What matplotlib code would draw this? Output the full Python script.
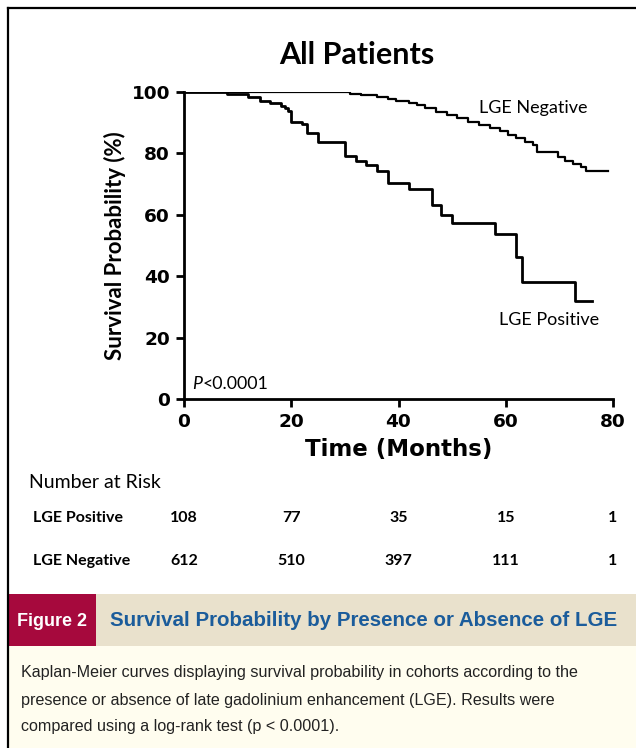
import matplotlib
matplotlib.use('Agg')
import matplotlib.pyplot as plt
import matplotlib.patches as mpatches
import matplotlib.transforms as mtransforms

# Kaplan-Meier step data (months, survival %)
pos_time = [0, 8, 12, 14.2, 16, 18, 18.8, 19.4, 20, 22, 23, 25, 30, 32, 34, 36,
            38, 42, 46.2, 48, 50, 58, 62, 63, 73, 76]
pos_surv = [100, 99.2, 98.3, 97.2, 96.3, 95.5, 94.7, 93.8, 90.3, 89.5, 86.5, 83.6,
            79.3, 77.5, 76.2, 74.3, 70.5, 68.3, 63.2, 59.9, 57.2, 53.6, 46.4,
            38.2, 31.9, 31.9]
neg_time = [0, 31, 33, 36, 38, 39.5, 42, 43.5, 45, 47, 49, 51, 53, 55, 57, 59,
            60.5, 62, 63.5, 65, 65.8, 69.7, 71, 72.6, 74, 75, 79]
neg_surv = [100, 99.5, 99.0, 98.3, 97.6, 97.0, 96.5, 95.8, 94.8, 93.4, 92.4, 91.4,
            90.3, 89.3, 88.2, 87.2, 86.0, 85.0, 83.8, 82.8, 80.5, 78.8, 77.5,
            76.5, 75.5, 74.2, 74.2]

risk_times = [0, 20, 40, 60, 80]
risk_pos = [108, 77, 35, 15, 1]
risk_neg = [612, 510, 397, 111, 1]

W, H = 636, 748


def fx(px):
    return px / W


def fy(py):
    return 1 - py / H


fig = plt.figure(figsize=(W / 100, H / 100), dpi=100)
fig.patch.set_facecolor('white')

# outer frame (only top and left edges are visible)
fig.add_artist(plt.Line2D([fx(8), fx(8)], [fy(8), 0], color='black', lw=1.6,
                          transform=fig.transFigure))
fig.add_artist(plt.Line2D([fx(8), 1], [fy(8), fy(8)], color='black', lw=1.6,
                          transform=fig.transFigure))

# caption band
fig.add_artist(mpatches.Rectangle((fx(9), fy(748)), 1, fy(646) - fy(748),
               transform=fig.transFigure, facecolor='#fffdef', edgecolor='none'))
fig.add_artist(mpatches.Rectangle((fx(9), fy(646)), 1, fy(594) - fy(646),
               transform=fig.transFigure, facecolor='#e9e1cc', edgecolor='none'))
fig.add_artist(mpatches.Rectangle((fx(8), fy(646)), fx(96) - fx(8), fy(594) - fy(646),
               transform=fig.transFigure, facecolor='#a6093d', edgecolor='none'))
narrow = ['Liberation Sans Narrow', 'Liberation Sans', 'DejaVu Sans']
fig.text(fx(52), fy(621), 'Figure 2', color='white', fontsize=13,
         fontweight='bold', family=narrow, ha='center', va='center')
fig.text(fx(110), fy(621), 'Survival Probability by Presence or Absence of LGE',
         color='#1b5c9b', fontsize=14.8, fontweight='bold', family=narrow,
         ha='left', va='center')
caption = ['Kaplan-Meier curves displaying survival probability in cohorts according to the',
           'presence or absence of late gadolinium enhancement (LGE). Results were',
           'compared using a log-rank test (p < 0.0001).']
for i, line in enumerate(caption):
    fig.text(fx(21), fy(673 + 27 * i), line, color='#222222', fontsize=11.6,
             family=narrow, ha='left', va='center')

# survival plot
ax = fig.add_axes([fx(184), fy(399), fx(613) - fx(184), fy(92) - fy(399)])
ax.step(neg_time, neg_surv, where='post', color='black', lw=1.6)
ax.step(pos_time, pos_surv, where='post', color='black', lw=2.0)
ax.set_xlim(0, 80)
ax.set_ylim(0, 100)
ax.set_xticks(risk_times)
ax.set_yticks([0, 20, 40, 60, 80, 100])
for s in ['top', 'right']:
    ax.spines[s].set_visible(False)
for s in ['left', 'bottom']:
    ax.spines[s].set_linewidth(2)
ax.tick_params(direction='out', length=6, width=2, labelsize=13.3, pad=4)
for lab in ax.get_xticklabels() + ax.get_yticklabels():
    lab.set_fontweight('bold')
ax.set_xlabel('Time (Months)', fontsize=16.5, fontweight='bold', labelpad=5)
ax.set_ylabel('Survival Probability (%)', fontsize=16, family='Lato',
              fontweight='bold', labelpad=4)
fig.text(fx(357), fy(55), 'All Patients', fontsize=22, family='Lato',
         fontweight='bold', ha='center', va='center')

ax.text(65.1, 94.8, 'LGE Negative', fontsize=13, family='Lato', ha='center', va='center')
ax.text(68.1, 25.7, 'LGE Positive', fontsize=13, family='Lato', ha='center', va='center')
pt = ax.text(1.6, 2.3, 'P', fontsize=12.8, family='Lato', style='italic', ha='left', va='bottom')
ax.annotate('<0.0001', xy=(1, 0), xycoords=pt, fontsize=12.8, family='Lato',
            ha='left', va='bottom')

# number at risk table
blend = mtransforms.blended_transform_factory(ax.transData, fig.transFigure)
fig.text(fx(29), fy(483), 'Number at Risk', fontsize=14, family='Lato', ha='left', va='center')
fig.text(fx(33), fy(518), 'LGE Positive', fontsize=11.5, family='Lato', fontweight='bold',
         ha='left', va='center')
fig.text(fx(33), fy(561), 'LGE Negative', fontsize=11.5, family='Lato', fontweight='bold',
         ha='left', va='center')
for t, p, n in zip(risk_times, risk_pos, risk_neg):
    fig.text(t, fy(518), str(p), transform=blend, fontsize=11.5, family='Lato',
             fontweight='bold', ha='center', va='center')
    fig.text(t, fy(561), str(n), transform=blend, fontsize=11.5, family='Lato',
             fontweight='bold', ha='center', va='center')

fig.savefig('out.png', dpi=100)
